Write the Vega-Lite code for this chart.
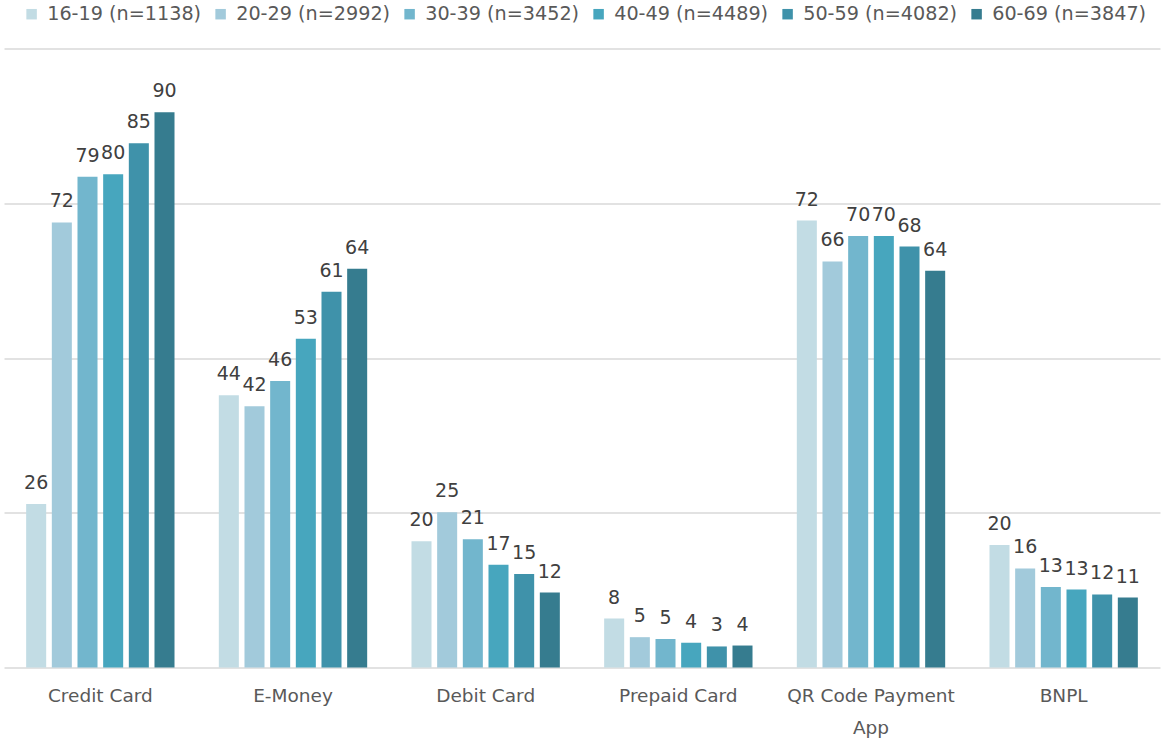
{
  "$schema": "https://vega.github.io/schema/vega-lite/v6.json",
  "width": 1156,
  "height": 619,
  "autosize": {"type": "none"},
  "padding": {"left": 4, "top": 48.5, "right": 1, "bottom": 74.5},
  "background": "white",
  "config": {
    "font": "DejaVu Sans",
    "view": {"stroke": null}
  },
  "data": {
    "values": [
      {"category": "Credit Card", "group": "16-19 (n=1138)", "value": 26.4},
      {"category": "Credit Card", "group": "20-29 (n=2992)", "value": 71.9},
      {"category": "Credit Card", "group": "30-39 (n=3452)", "value": 79.3},
      {"category": "Credit Card", "group": "40-49 (n=4489)", "value": 79.7},
      {"category": "Credit Card", "group": "50-59 (n=4082)", "value": 84.7},
      {"category": "Credit Card", "group": "60-69 (n=3847)", "value": 89.7},
      {"category": "E-Money", "group": "16-19 (n=1138)", "value": 44.0},
      {"category": "E-Money", "group": "20-29 (n=2992)", "value": 42.2},
      {"category": "E-Money", "group": "30-39 (n=3452)", "value": 46.3},
      {"category": "E-Money", "group": "40-49 (n=4489)", "value": 53.1},
      {"category": "E-Money", "group": "50-59 (n=4082)", "value": 60.7},
      {"category": "E-Money", "group": "60-69 (n=3847)", "value": 64.4},
      {"category": "Debit Card", "group": "16-19 (n=1138)", "value": 20.4},
      {"category": "Debit Card", "group": "20-29 (n=2992)", "value": 25.1},
      {"category": "Debit Card", "group": "30-39 (n=3452)", "value": 20.7},
      {"category": "Debit Card", "group": "40-49 (n=4489)", "value": 16.6},
      {"category": "Debit Card", "group": "50-59 (n=4082)", "value": 15.1},
      {"category": "Debit Card", "group": "60-69 (n=3847)", "value": 12.1},
      {"category": "Prepaid Card", "group": "16-19 (n=1138)", "value": 7.9},
      {"category": "Prepaid Card", "group": "20-29 (n=2992)", "value": 4.9},
      {"category": "Prepaid Card", "group": "30-39 (n=3452)", "value": 4.6},
      {"category": "Prepaid Card", "group": "40-49 (n=4489)", "value": 4.0},
      {"category": "Prepaid Card", "group": "50-59 (n=4082)", "value": 3.4},
      {"category": "Prepaid Card", "group": "60-69 (n=3847)", "value": 3.55},
      {"category": "QR Code Payment App", "group": "16-19 (n=1138)", "value": 72.2},
      {"category": "QR Code Payment App", "group": "20-29 (n=2992)", "value": 65.6},
      {"category": "QR Code Payment App", "group": "30-39 (n=3452)", "value": 69.7},
      {"category": "QR Code Payment App", "group": "40-49 (n=4489)", "value": 69.7},
      {"category": "QR Code Payment App", "group": "50-59 (n=4082)", "value": 68.0},
      {"category": "QR Code Payment App", "group": "60-69 (n=3847)", "value": 64.1},
      {"category": "BNPL", "group": "16-19 (n=1138)", "value": 19.8},
      {"category": "BNPL", "group": "20-29 (n=2992)", "value": 16.0},
      {"category": "BNPL", "group": "30-39 (n=3452)", "value": 13.0},
      {"category": "BNPL", "group": "40-49 (n=4489)", "value": 12.6},
      {"category": "BNPL", "group": "50-59 (n=4082)", "value": 11.8},
      {"category": "BNPL", "group": "60-69 (n=3847)", "value": 11.3}
    ]
  },
  "encoding": {
    "x": {
      "field": "category",
      "type": "nominal",
      "sort": null,
      "scale": {"paddingInner": 0.23, "paddingOuter": 0.115},
      "axis": {
        "title": null,
        "labelAngle": 0,
        "labelFontSize": 18.5,
        "labelColor": "#595959",
        "labelPadding": 19,
        "labelBaseline": "top",
        "labelLineHeight": 32,
        "labelExpr": "datum.label == 'QR Code Payment App' ? ['QR Code Payment', 'App'] : datum.label",
        "ticks": false,
        "domainColor": "#d9d9d9",
        "domainWidth": 1.5,
        "grid": false
      }
    },
    "xOffset": {
      "field": "group",
      "type": "nominal",
      "sort": null,
      "scale": {"paddingInner": 0.22, "paddingOuter": 0}
    },
    "y": {
      "field": "value",
      "type": "quantitative",
      "scale": {"domain": [0, 100], "nice": false},
      "axis": {
        "title": null,
        "labels": false,
        "ticks": false,
        "domain": false,
        "values": [25, 50, 75, 100],
        "gridColor": "#d9d9d9",
        "gridWidth": 1.5
      }
    }
  },
  "layer": [
    {
      "mark": {"type": "bar"},
      "encoding": {
        "color": {
          "field": "group",
          "type": "nominal",
          "sort": null,
          "scale": {
            "range": ["#c2dce4", "#a2cadb", "#72b6cd", "#47a6be", "#3f92aa", "#367c8f"]
          },
          "legend": {
            "title": null,
            "orient": "none",
            "direction": "horizontal",
            "legendX": 18,
            "legendY": -44,
            "symbolType": "square",
            "symbolSize": 110,
            "symbolStrokeWidth": 0,
            "symbolOpacity": 1,
            "labelFontSize": 19.2,
            "labelColor": "#595959",
            "labelOffset": 6,
            "columnPadding": 9
          }
        }
      }
    },
    {
      "mark": {"type": "text", "fontSize": 19, "color": "#404040", "baseline": "alphabetic", "dy": -15},
      "encoding": {
        "text": {"field": "value", "type": "quantitative", "format": ".0f"}
      }
    }
  ]
}
